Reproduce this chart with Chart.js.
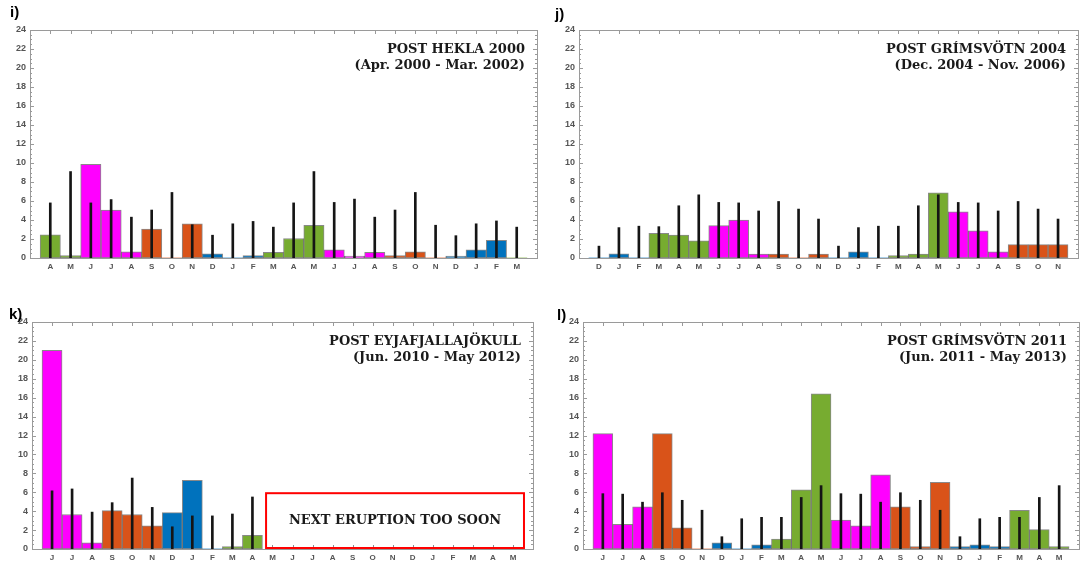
<!DOCTYPE html>
<html>
<head>
<meta charset="utf-8">
<script src="https://cdn.jsdelivr.net/npm/chart.js@4.4.0/dist/chart.umd.min.js"></script>
<style>
  body { margin: 0; background: #fff; width: 1083px; height: 563px; position: relative; overflow: hidden; }
  canvas { position: absolute; }
</style>
</head>
<body>
<canvas id="chartI" style="left:0;top:0" width="545" height="282"></canvas>
<canvas id="chartJ" style="left:545px;top:0" width="538" height="282"></canvas>
<canvas id="chartK" style="left:0;top:282px" width="545" height="281"></canvas>
<canvas id="chartL" style="left:545px;top:282px" width="538" height="281"></canvas>
<script>
// month labels for each panel
const monthsI = ['A','M','J','J','A','S','O','N','D','J','F','M','A','M','J','J','A','S','O','N','D','J','F','M'];
const monthsJ = ['D','J','F','M','A','M','J','J','A','S','O','N','D','J','F','M','A','M','J','J','A','S','O','N'];
const monthsK = ['J','J','A','S','O','N','D','J','F','M','A','M','J','J','A','S','O','N','D','J','F','M','A','M'];
const monthsL = ['J','J','A','S','O','N','D','J','F','M','A','M','J','J','A','S','O','N','D','J','F','M','A','M'];

// first calendar month of each panel (1 = Jan)
const startI = 4, startJ = 12, startK = 6, startL = 6;

// monthly values (coloured bars)
const barsI = [2.45,0.25,9.85,5.05,0.65,3.05,0,3.6,0.45,0,0.25,0.6, 2.05,3.45,0.85,0.2,0.6,0.25,0.65,0,0.2,0.85,1.85,0];
const barsJ = [0,0.45,0,2.6,2.4,1.8,3.4,4.0,0.4,0.4,0,0.4, 0,0.65,0,0.25,0.4,6.85,4.85,2.85,0.65,1.4,1.4,1.4];
const barsK = [21.0,3.65,0.65,4.05,3.65,2.45,3.85,7.25,0,0.25,1.45, null,null,null,null,null,null,null,null,null,null,null,null,null];
const barsL = [12.2,2.6,4.45,12.2,2.25,0,0.65,0,0.45,1.05,6.25,16.4, 3.05,2.45,7.85,4.45,0.25,7.05,0.25,0.45,0.25,4.1,2.05,0.25];

// reference values (thin black lines)
const linesI = [5.8,9.1,5.8,6.15,4.3,5.05,6.9,3.5,2.4,3.6,3.85,3.25, 5.8,9.1,5.85,6.2,4.3,5.05,6.9,3.45,2.35,3.6,3.9,3.25];
const linesJ = [1.25,3.2,3.35,3.3,5.5,6.65,5.85,5.8,4.95,5.95,5.15,4.1, 1.25,3.2,3.35,3.35,5.5,6.65,5.85,5.8,4.95,5.95,5.15,4.1];
const linesK = [6.15,6.35,3.9,4.9,7.5,4.4,2.35,3.5,3.5,3.7,5.5, null,null,null,null,null,null,null,null,null,null,null,null,null];
const linesL = [5.85,5.8,4.95,5.95,5.15,4.1,1.3,3.2,3.35,3.35,5.45,6.7, 5.85,5.8,4.95,5.95,5.15,4.1,1.3,3.2,3.35,3.35,5.45,6.7];

const titlesI = ['POST HEKLA 2000', '(Apr. 2000 - Mar. 2002)'];
const titlesJ = ['POST GRÍMSVÖTN 2004', '(Dec. 2004 - Nov. 2006)'];
const titlesK = ['POST EYJAFJALLAJÖKULL', '(Jun. 2010 - May 2012)'];
const titlesL = ['POST GRÍMSVÖTN 2011', '(Jun. 2011 - May 2013)'];

const SEASON = { win: '#0072BD', spr: '#77AC30', sum: '#FF00FF', aut: '#D95319' };

function seasonColor(month) {
  if (month === 12 || month <= 2) return SEASON.win;
  if (month <= 5) return SEASON.spr;
  if (month <= 8) return SEASON.sum;
  return SEASON.aut;
}

// frame, ticks, titles, panel letter and the optional note box
const framePlugin = {
  id: 'frame',
  beforeDatasetsDraw(chart, args, opts) {
    const { ctx, chartArea: a, scales: { x } } = chart;
    ctx.save();
    ctx.strokeStyle = '#8c8c8c';
    ctx.lineWidth = 1;
    ctx.beginPath();
    for (let i = 1; i <= 24; i++) {
      const px = Math.round(x.getPixelForValue(i)) + 0.5;
      ctx.moveTo(px, a.bottom);
      ctx.lineTo(px, a.bottom - 4);
    }
    ctx.stroke();
    ctx.restore();
  },
  afterDraw(chart, args, opts) {
    const { ctx, chartArea: a, scales: { x, y } } = chart;
    ctx.save();
    ctx.strokeStyle = '#9a9a9a';
    ctx.lineWidth = 1;
    ctx.strokeRect(Math.round(a.left) + 0.5, Math.round(a.top) + 0.5,
      Math.round(a.right - a.left), Math.round(a.bottom - a.top));

    ctx.beginPath();
    for (let v = 0; v <= 24; v += 0.5) {
      const py = Math.round(y.getPixelForValue(v)) + 0.5;
      const len = v % 2 === 0 ? 4 : 2;
      ctx.moveTo(a.left, py); ctx.lineTo(a.left + len, py);
      ctx.moveTo(a.right, py); ctx.lineTo(a.right - len, py);
    }
    for (let i = 1; i <= 24; i++) {
      const px = Math.round(x.getPixelForValue(i)) + 0.5;
      ctx.moveTo(px, a.top); ctx.lineTo(px, a.top + 4);
    }
    ctx.stroke();

    // title, top right
    ctx.fillStyle = '#1a1a1a';
    ctx.font = 'bold 13px "DejaVu Serif"';
    ctx.textAlign = 'right';
    ctx.textBaseline = 'alphabetic';
    ctx.fillText(opts.title[0], a.right - 12, a.top + 23);
    ctx.fillText(opts.title[1], a.right - 12, a.top + 39);

    // panel letter
    ctx.font = 'bold 15px "Liberation Sans"';
    ctx.textAlign = 'left';
    ctx.fillStyle = '#000';
    ctx.fillText(opts.letter[0], opts.letter[1], opts.letter[2]);

    // note box over the missing months
    if (opts.note) {
      const x0 = x.getPixelForValue(opts.note.from + 1);
      const x1 = x.getPixelForValue(opts.note.to + 1);
      const y0 = y.getPixelForValue(opts.note.top);
      const y1 = a.bottom - 1;
      ctx.strokeStyle = '#ff0000';
      ctx.lineWidth = 2;
      ctx.strokeRect(x0, y0, x1 - x0, y1 - y0);
      ctx.fillStyle = '#1a1a1a';
      ctx.font = 'bold 13px "DejaVu Serif"';
      ctx.textAlign = 'center';
      ctx.textBaseline = 'middle';
      ctx.fillText(opts.note.text, (x0 + x1) / 2, (y0 + y1) / 2);
    }
    ctx.restore();
  }
};

function makePanel(id, months, start, bars, lines, titles, box, letter, note) {
  // one empty slot on each side of the 24 months
  const labels = [''].concat(months, ['']);
  const barData = [null].concat(bars, [null]);
  const lineData = [null].concat(lines, [null]);
  const colors = labels.map((m, i) => seasonColor(((start - 1 + i - 1 + 12) % 12) + 1));

  new Chart(document.getElementById(id), {
    type: 'bar',
    data: {
      labels,
      datasets: [
        {
          data: lineData,
          backgroundColor: '#151515',
          borderWidth: 0,
          barThickness: 2,
          grouped: false,
          order: 0
        },
        {
          data: barData,
          backgroundColor: colors,
          borderColor: 'rgba(40,40,40,0.55)',
          borderWidth: ctx => (ctx.raw ? 1 : 0),
          borderSkipped: false,
          categoryPercentage: 1,
          barPercentage: 1,
          grouped: false,
          order: 1
        }
      ]
    },
    options: {
      responsive: false,
      animation: false,
      layout: { padding: { top: box.top, right: box.right, left: 0, bottom: 0 } },
      plugins: {
        legend: { display: false },
        tooltip: { enabled: false },
        frame: { title: titles, letter, note }
      },
      scales: {
        x: {
          offset: false,
          grid: { display: false, drawTicks: false },
          border: { display: false },
          ticks: {
            autoSkip: false, maxRotation: 0, padding: 4,
            color: '#555', font: { family: 'Liberation Sans', size: 8, weight: 'bold' }
          },
          afterFit: s => { s.height = box.xh; }
        },
        y: {
          min: 0, max: 24,
          grid: { display: false, drawTicks: false },
          border: { display: false },
          ticks: {
            stepSize: 2, padding: 4,
            color: '#555', font: { family: 'Liberation Sans', size: 9, weight: 'bold' }
          },
          afterFit: s => { s.width = box.yw; }
        }
      }
    },
    plugins: [framePlugin]
  });
}

makePanel('chartI', monthsI, startI, barsI, linesI, titlesI,
  { top: 30, right: 8, yw: 30, xh: 24 }, ['i)', 10, 17]);
makePanel('chartJ', monthsJ, startJ, barsJ, linesJ, titlesJ,
  { top: 30, right: 5, yw: 34, xh: 24 }, ['j)', 10, 19]);
makePanel('chartK', monthsK, startK, barsK, linesK, titlesK,
  { top: 40, right: 12, yw: 32, xh: 14 }, ['k)', 9, 37],
  { from: 10.68, to: 23.55, top: 5.9, text: 'NEXT ERUPTION TOO SOON' });
makePanel('chartL', monthsL, startL, barsL, linesL, titlesL,
  { top: 40, right: 4, yw: 38, xh: 14 }, ['l)', 12, 38]);
</script>
</body>
</html>
